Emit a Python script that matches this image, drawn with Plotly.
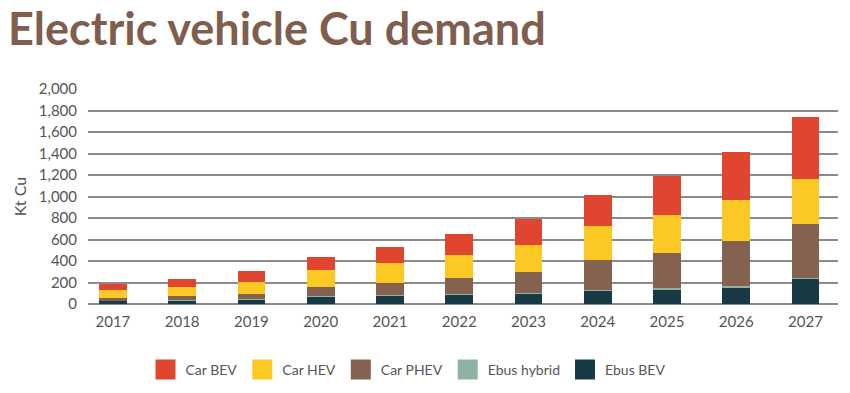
import plotly.graph_objects as go

years = ["2017", "2018", "2019", "2020", "2021", "2022", "2023", "2024", "2025", "2026", "2027"]
ebus_bev = [29, 33, 42, 73, 82, 88, 99, 128, 138, 157, 235]
ebus_hybrid = [3, 3, 4, 5, 5, 5, 6, 6, 7, 8, 10]
car_phev = [20, 38, 48, 80, 105, 146, 196, 279, 332, 421, 495]
car_hev = [75, 83, 114, 158, 192, 214, 251, 311, 347, 384, 426]
car_bev = [58, 71, 97, 118, 146, 195, 238, 293, 367, 448, 575]
y_ticks = [0, 200, 400, 600, 800, 1000, 1200, 1400, 1600, 1800, 2000]

series = [
    ("Ebus BEV", ebus_bev, "#173a44"),
    ("Ebus hybrid", ebus_hybrid, "#8fb3a3"),
    ("Car PHEV", car_phev, "#85624f"),
    ("Car HEV", car_hev, "#fcc824"),
    ("Car BEV", car_bev, "#e0452f"),
]

FONT = "Lato, sans-serif"
W, H = 842, 385  # page body has an 8px default margin

fig = go.Figure()
xs = list(range(len(years)))
for name, vals, col in series:
    fig.add_trace(go.Bar(x=xs, y=vals, name=name, marker=dict(color=col, line=dict(width=0)),
                         width=0.4, showlegend=False))
for name, vals, col in reversed(series):
    fig.add_trace(go.Scatter(x=[None], y=[None], mode="markers", name=name,
                             marker=dict(symbol="square", size=16, color=col,
                                         line=dict(color=col, width=4))))

fig.update_layout(
    barmode="stack",
    width=W, height=H,
    paper_bgcolor="white", plot_bgcolor="white",
    margin=dict(l=80, r=12, t=81, b=89),
    title=dict(text="Electric vehicle Cu demand", x=0, xanchor="left", xref="container",
               y=1 - 5 / H, yanchor="top", yref="container",
               font=dict(family=FONT, size=45, color="#7f5e4e", weight="bold")),
    font=dict(family=FONT, color="#555555"),
    legend=dict(orientation="h", x=400 / W, xanchor="center", xref="container",
                y=(H - 362) / H, yanchor="middle", yref="container",
                font=dict(size=14, color="#555555"), itemsizing="trace",
                traceorder="normal"),
)
fig.update_xaxes(tickmode="array", tickvals=xs, ticktext=years, range=[-0.36, 10.47],
                 showgrid=False, zeroline=False, showline=False,
                 tickfont=dict(size=15, color="#555555"), ticks="", ticklabelstandoff=7)
fig.update_yaxes(range=[0, 2000], tickvals=y_ticks, tickformat=",d",
                 showgrid=True, gridcolor="#8a8a8a", gridwidth=1.5,
                 zeroline=True, zerolinecolor="#8a8a8a", zerolinewidth=1.5,
                 showline=False, ticks="", ticklabelstandoff=10,
                 tickfont=dict(size=15, color="#555555"),
                 title=dict(text="Kt Cu", font=dict(size=16, color="#555555"), standoff=8))
fig.write_html("out.html")
